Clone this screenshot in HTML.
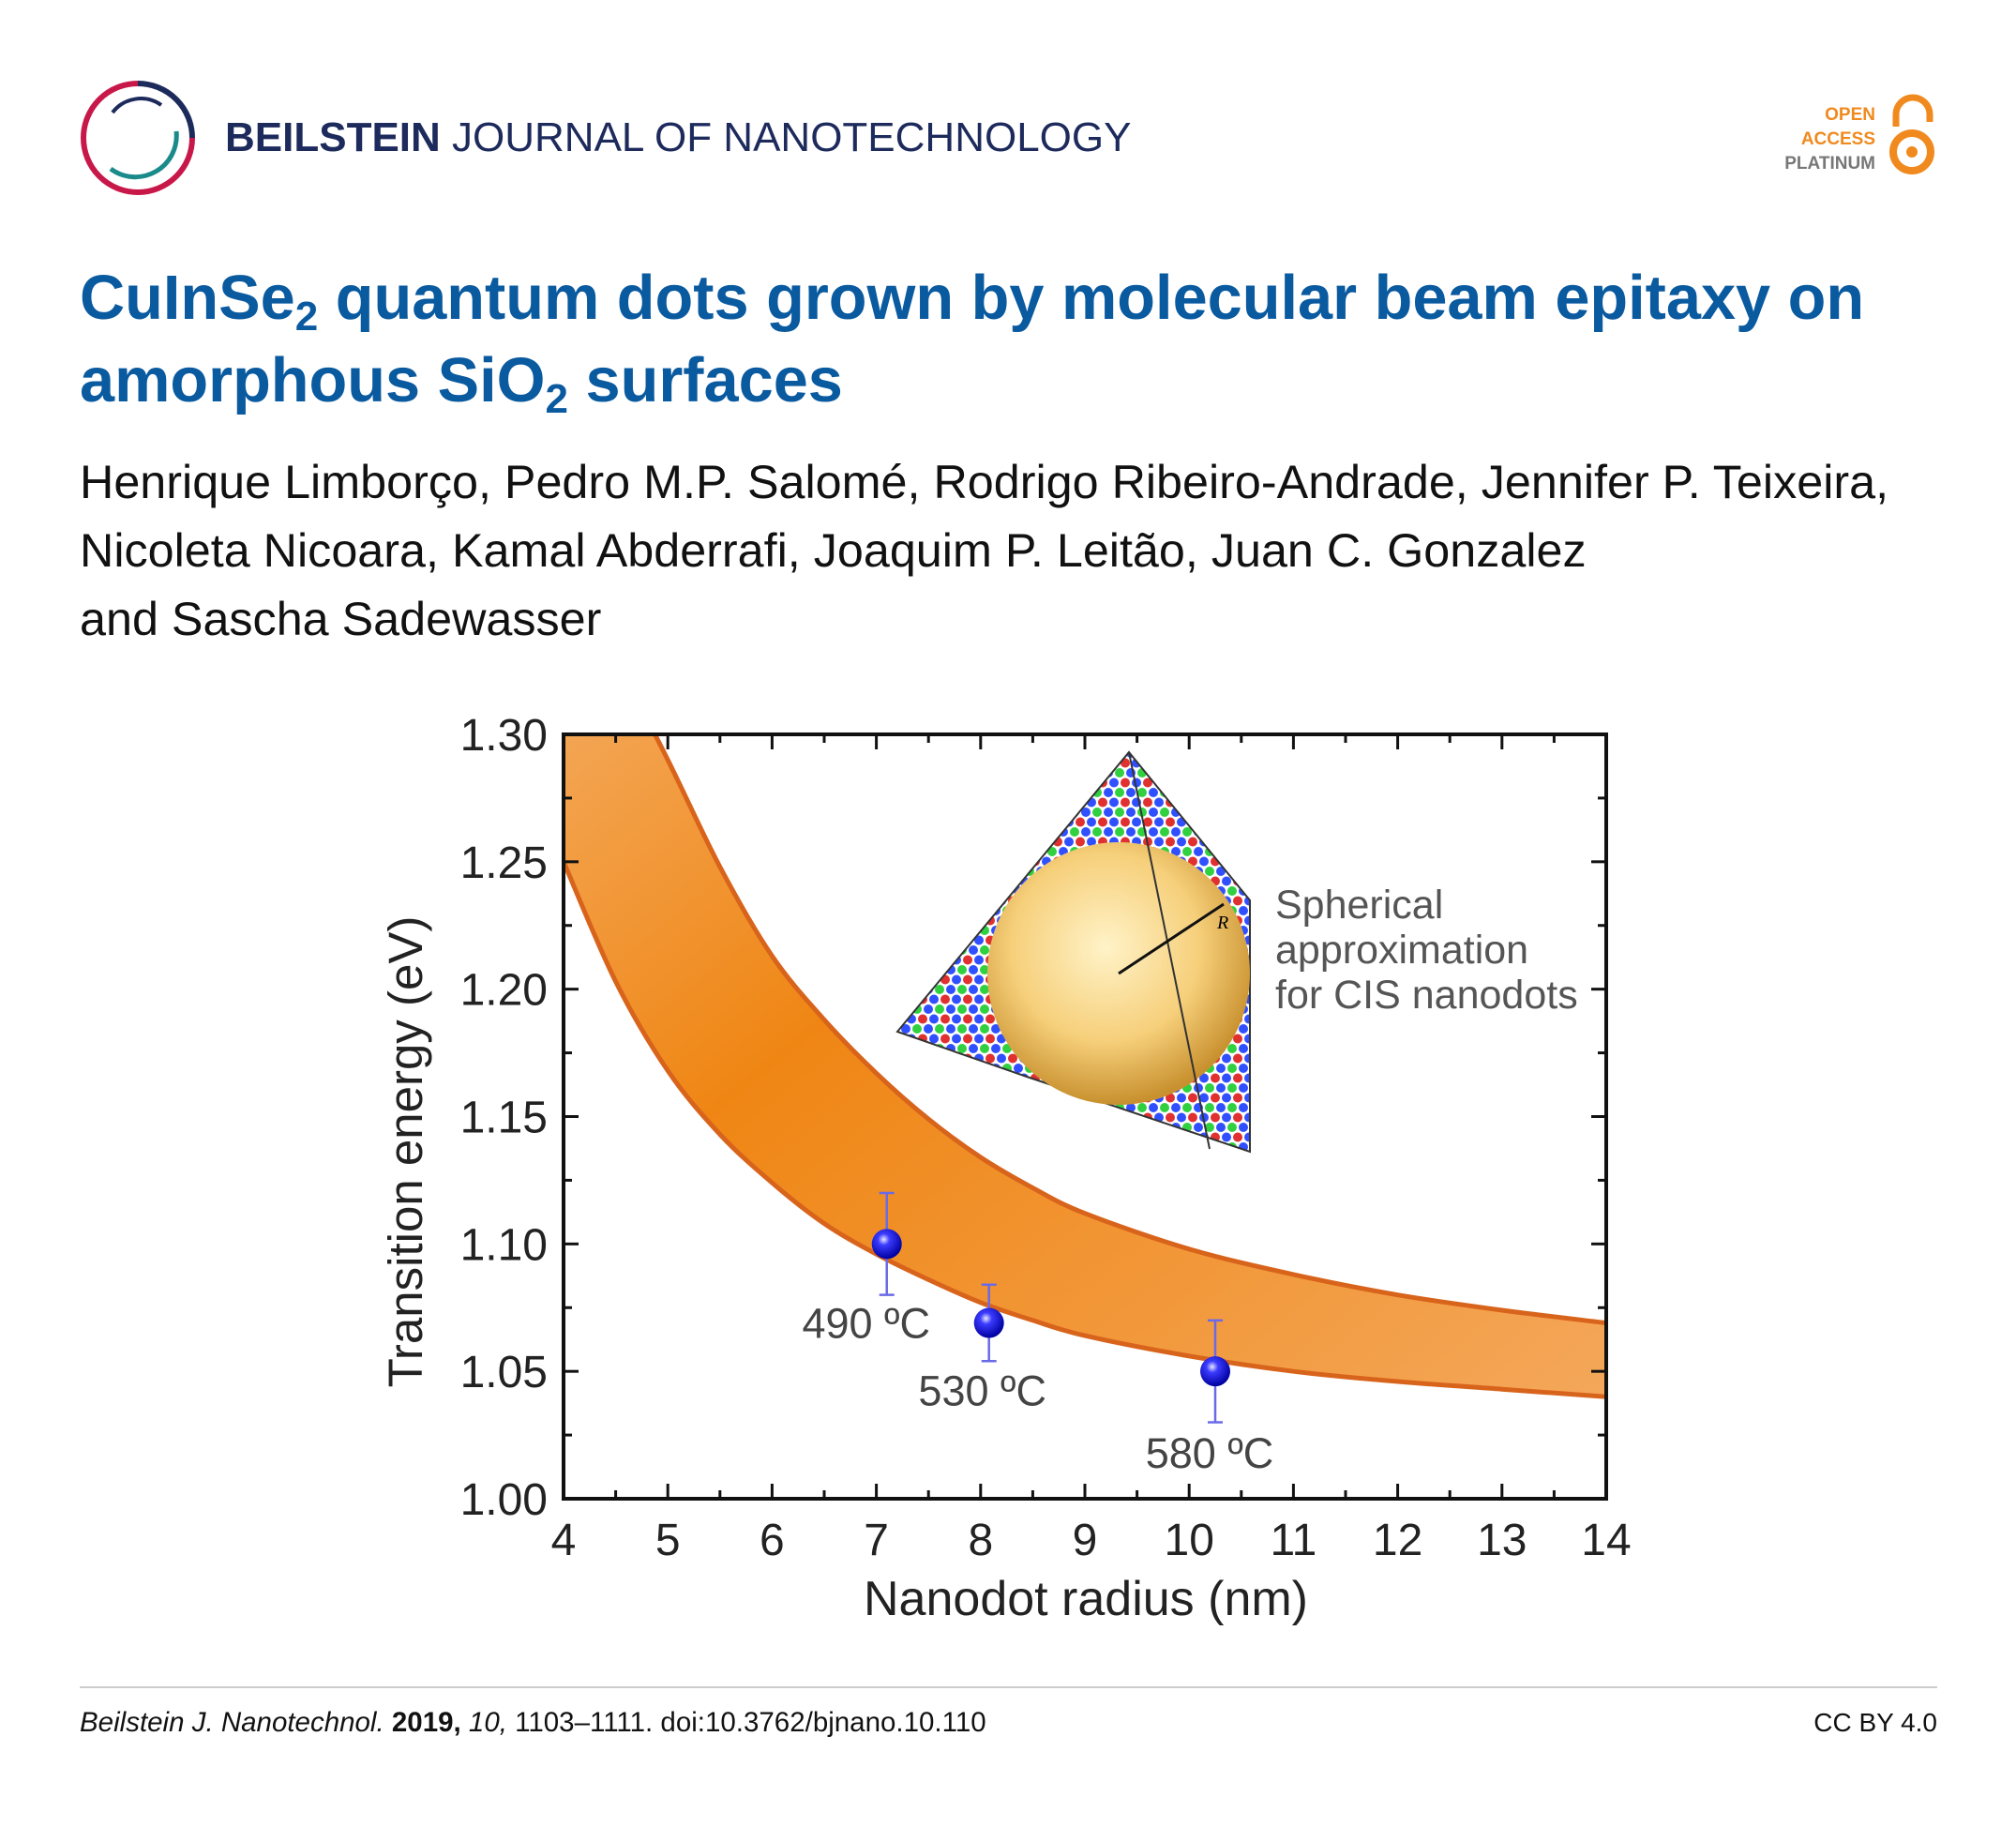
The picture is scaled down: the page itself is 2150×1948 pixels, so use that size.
<!DOCTYPE html>
<html><head><meta charset="utf-8"><style>
body{margin:0;background:#fff;}
svg{display:block;font-family:"Liberation Sans",sans-serif;}
</style></head><body>
<svg id="s" width="2150" height="1948" viewBox="0 0 2150 1948" xmlns="http://www.w3.org/2000/svg">
<defs>
<linearGradient id="band" x1="0" y1="0" x2="1" y2="1">
<stop offset="0" stop-color="#f5b06a"/><stop offset="0.4" stop-color="#ef8614"/><stop offset="1" stop-color="#f4a75a"/>
</linearGradient>
<radialGradient id="ball" cx="0.4" cy="0.35" r="0.65">
<stop offset="0" stop-color="#e8e8ff"/><stop offset="0.3" stop-color="#3b3bff"/><stop offset="1" stop-color="#0000a0"/>
</radialGradient>
<radialGradient id="sph" cx="0.45" cy="0.4" r="0.6">
<stop offset="0" stop-color="#fff3c8"/><stop offset="0.6" stop-color="#f6cf7a"/><stop offset="1" stop-color="#c8902e"/>
</radialGradient>
<pattern id="atoms" width="24" height="21" patternUnits="userSpaceOnUse">
<rect width="24" height="21" fill="#fff"/>
<circle cx="6" cy="5" r="5" fill="#3050ff"/><circle cx="18" cy="5" r="5" fill="#30d040"/>
<circle cx="0" cy="15.5" r="5" fill="#e03030"/><circle cx="12" cy="15.5" r="5" fill="#3050ff"/><circle cx="24" cy="15.5" r="5" fill="#e03030"/>
</pattern>
<clipPath id="plotclip"><rect x="601" y="783" width="1112" height="815"/></clipPath>
</defs>

<g>
<path d="M147 89 A58 58 0 1 0 205 147" fill="none" stroke="#c8184a" stroke-width="6"/>
<path d="M147 89 A58 58 0 0 1 205 147" fill="none" stroke="#1d2a5c" stroke-width="6"/>
<path d="M118 180 A44 44 0 0 0 188 140" fill="none" stroke="#1a8a8a" stroke-width="5"/>
<path d="M120 120 A38 38 0 0 1 172 112" fill="none" stroke="#1d2a5c" stroke-width="4"/>
</g>
<text x="240" y="161" font-size="44" fill="#1d2a5c"><tspan font-weight="bold">BEILSTEIN</tspan> JOURNAL OF NANOTECHNOLOGY</text>
<g font-weight="bold" font-size="19" text-anchor="end">
<text x="2000" y="128" fill="#f08a1e">OPEN</text>
<text x="2000" y="154" fill="#f08a1e">ACCESS</text>
<text x="2000" y="180" fill="#777">PLATINUM</text>
<path d="M2022 135 V122 A18 18 0 0 1 2058 122 V130" fill="none" stroke="#f08a1e" stroke-width="7"/>
<circle cx="2039" cy="162" r="20" fill="none" stroke="#f08a1e" stroke-width="8"/>
<circle cx="2039" cy="162" r="6" fill="#f08a1e"/>
</g>
<g font-weight="bold" font-size="66.7" fill="#0a5aa0">
<text x="85" y="340">CuInSe<tspan font-size="44" dy="12">2</tspan><tspan dy="-12"> quantum dots grown by molecular beam epitaxy on</tspan></text>
<text x="85" y="428">amorphous SiO<tspan font-size="44" dy="12">2</tspan><tspan dy="-12"> surfaces</tspan></text>
</g>
<g font-size="50.3" fill="#111">
<text x="85" y="531">Henrique Limborço, Pedro M.P. Salomé, Rodrigo Ribeiro-Andrade, Jennifer P. Teixeira,</text>
<text x="85" y="604">Nicoleta Nicoara, Kamal Abderrafi, Joaquim P. Leitão, Juan C. Gonzalez</text>
<text x="85" y="677">and Sascha Sadewasser</text>
</g>
<line x1="85" y1="1799" x2="2066" y2="1799" stroke="#ccc" stroke-width="2"/>
<text x="85" y="1846" font-size="29.5" fill="#111"><tspan font-style="italic">Beilstein J. Nanotechnol.</tspan> <tspan font-weight="bold">2019,</tspan> <tspan font-style="italic">10,</tspan> 1103–1111. doi:10.3762/bjnano.10.110</text>
<text x="2066" y="1846" font-size="28" fill="#111" text-anchor="end">CC BY 4.0</text>

<g id="chart"></g>
</svg>
<script>
const xTicks=[4,5,6,7,8,9,10,11,12,13,14];
const yTicks=[1.00,1.05,1.10,1.15,1.20,1.25,1.30];
const yTickLabels=["1.00","1.05","1.10","1.15","1.20","1.25","1.30"];
const bandX=[4,4.5,5,5.5,6,6.5,7,7.5,8,8.5,9,10,11,12,13,14];
const bandUpper=[1.37,1.330,1.290,1.248,1.213,1.188,1.167,1.149,1.134,1.122,1.112,1.098,1.088,1.080,1.074,1.069];
const bandLower=[1.250,1.203,1.168,1.143,1.124,1.108,1.096,1.086,1.077,1.070,1.064,1.056,1.050,1.046,1.043,1.040];
const pointX=[7.1,8.08,10.25];
const pointY=[1.10,1.069,1.05];
const pointErr=[0.02,0.015,0.02];
const pointLabels=["490 ºC","530 ºC","580 ºC"];

const L=601,R=1713,T=783,B=1598;
const sx=v=>L+(v-4)/(14-4)*(R-L);
const sy=v=>B-(v-1.0)/(0.30)*(B-T);
const NS="http://www.w3.org/2000/svg";
const g=document.getElementById('chart');
function mk(tag,attrs,parent){const e=document.createElementNS(NS,tag);for(const k in attrs)e.setAttribute(k,attrs[k]);(parent||g).appendChild(e);return e;}

function curve(xs,ys,start){
  const p=xs.map((x,i)=>[sx(x),sy(ys[i])]);
  let d=(start?'M':'L')+p[0][0].toFixed(1)+' '+p[0][1].toFixed(1);
  for(let i=0;i<p.length-1;i++){
    const p0=p[Math.max(0,i-1)],p1=p[i],p2=p[i+1],p3=p[Math.min(p.length-1,i+2)];
    const c1=[p1[0]+(p2[0]-p0[0])/6,p1[1]+(p2[1]-p0[1])/6];
    const c2=[p2[0]-(p3[0]-p1[0])/6,p2[1]-(p3[1]-p1[1])/6];
    d+='C'+c1.map(v=>v.toFixed(1)).join(' ')+' '+c2.map(v=>v.toFixed(1)).join(' ')+' '+p2.map(v=>v.toFixed(1)).join(' ');
  }
  return d;
}
const clipG=mk('g',{'clip-path':'url(#plotclip)'});


const up=curve(bandX,bandUpper,true);
const loRev=curve(bandX.slice().reverse(),bandLower.slice().reverse(),false);
const band=mk('path',{d:up+loRev+'Z',fill:'url(#band)'},clipG);


const ue=mk('path',{d:up,fill:'none',stroke:'#d8641c','stroke-width':5},clipG);


const le=mk('path',{d:curve(bandX,bandLower,true),fill:'none',stroke:'#d8641c','stroke-width':5},clipG);



const ins=mk('g',{});


mk('polygon',{points:'1204,802 1333,960 1333,1228 1095,1148 957,1100',fill:'url(#atoms)',stroke:'#333','stroke-width':2},ins);
mk('circle',{cx:1193,cy:1038,r:140,fill:'url(#sph)'},ins);
mk('line',{x1:1204,y1:802,x2:1290,y2:1225,stroke:'#333','stroke-width':2},ins);
mk('line',{x1:1193,y1:1038,x2:1305,y2:964,stroke:'#111','stroke-width':3},ins);
const rl=mk('text',{x:1298,y:990,'font-size':20,'font-style':'italic','font-family':'Liberation Serif, serif'},ins);rl.textContent='R';
const cap=mk('g',{'font-size':43,fill:'#555'});


['Spherical','approximation','for CIS nanodots'].forEach((t,i)=>{const e=mk('text',{x:1360,y:979+i*48},cap);e.textContent=t;});

pointX.forEach((x,i)=>{
  const pg=mk('g',{});
  
  
  const cx=sx(x),cy=sy(pointY[i]),y1=sy(pointY[i]+pointErr[i]),y2=sy(pointY[i]-pointErr[i]);
  mk('line',{x1:cx,y1:y1,x2:cx,y2:y2,stroke:'#6a6ae8','stroke-width':2.5},pg);
  mk('line',{x1:cx-8,y1:y1,x2:cx+8,y2:y1,stroke:'#6a6ae8','stroke-width':2.5},pg);
  mk('line',{x1:cx-8,y1:y2,x2:cx+8,y2:y2,stroke:'#6a6ae8','stroke-width':2.5},pg);
  mk('circle',{cx:cx,cy:cy,r:16,fill:'url(#ball)'},pg);
});
const lblOff=[[0,100],[15,88],[16,103]];
pointLabels.forEach((t,i)=>{
  const e=mk('text',{x:sx(pointX[i])-22+lblOff[i][0],y:sy(pointY[i])+lblOff[i][1],'font-size':45,fill:'#444','text-anchor':'middle'});
  
  
  e.textContent=t;
});

const fr=mk('rect',{x:L,y:T,width:R-L,height:B-T,fill:'none',stroke:'#111','stroke-width':4});


const tk=mk('g',{stroke:'#111','stroke-width':3});


for(let v=4;v<=14.001;v+=0.5){const X=sx(v),len=(Math.abs(v-Math.round(v))<0.01)?16:9;
  mk('line',{x1:X,y1:B,x2:X,y2:B-len},tk);mk('line',{x1:X,y1:T,x2:X,y2:T+len},tk);}
for(let v=1.0;v<=1.3001;v+=0.025){const Y=sy(v),len=(Math.round(v*1000)%50===0)?16:9;
  mk('line',{x1:L,y1:Y,x2:L+len,y2:Y},tk);mk('line',{x1:R,y1:Y,x2:R-len,y2:Y},tk);}
xTicks.forEach(v=>{const e=mk('text',{x:sx(v),y:1658,'font-size':48,fill:'#222','text-anchor':'middle'});
  
  
  e.textContent=v;});
yTicks.forEach((v,i)=>{const e=mk('text',{x:584,y:sy(v)+17,'font-size':48,fill:'#222','text-anchor':'end'});
  
  
  e.textContent=yTickLabels[i];});
const xt=mk('text',{x:1158,y:1722,'font-size':52,fill:'#222','text-anchor':'middle'});


xt.textContent='Nanodot radius (nm)';
const yt=mk('text',{x:0,y:0,'font-size':51,fill:'#222','text-anchor':'middle',transform:'translate(450,1228) rotate(-90)'});


yt.textContent='Transition energy (eV)';
</script>
</body></html>
